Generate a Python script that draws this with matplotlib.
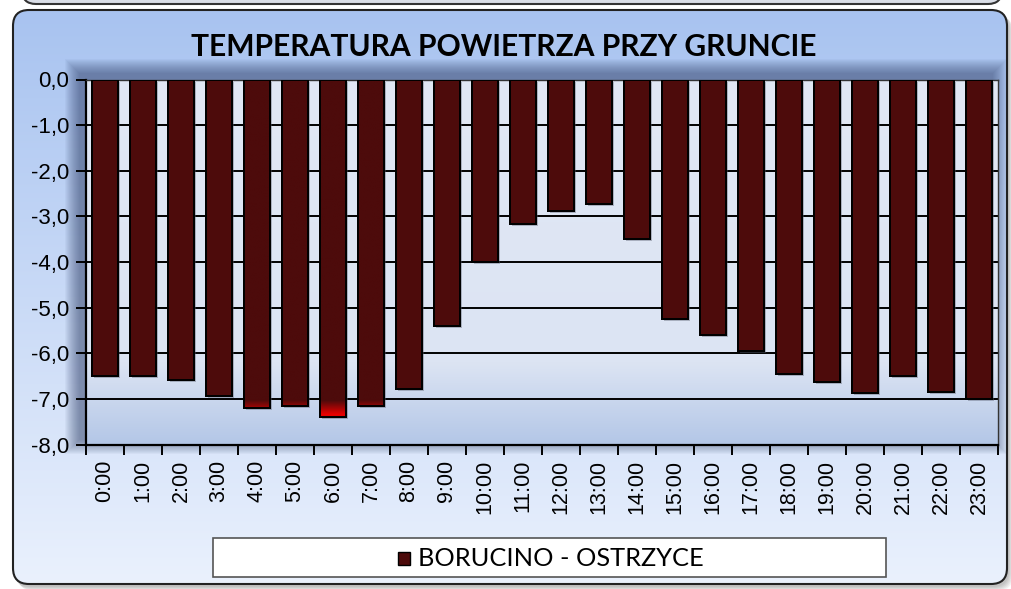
import numpy as np
import matplotlib
matplotlib.use('Agg')
import matplotlib.pyplot as plt
from matplotlib.colors import LinearSegmentedColormap
from matplotlib.patches import FancyBboxPatch, Rectangle
import matplotlib.patheffects as pe

hours = ['%d:00' % h for h in range(24)]
temps = [-6.49, -6.49, -6.59, -6.93, -7.20, -7.16, -7.39, -7.16, -6.78, -5.40,
         -4.00, -3.17, -2.89, -2.72, -3.50, -5.24, -5.60, -5.95, -6.46, -6.62,
         -6.88, -6.50, -6.85, -7.00]
yticks = [0, -1, -2, -3, -4, -5, -6, -7, -8]
title = 'TEMPERATURA POWIETRZA PRZY GRUNCIE'
series_name = 'BORUCINO - OSTRZYCE'

W, H = 1011, 589
bar_color = '#4d0b0b'

fig = plt.figure(figsize=(W / 100, H / 100), dpi=100)
fig.patch.set_facecolor('white')

# background layer in pixel coords
bg = fig.add_axes([0, 0, 1, 1], zorder=-1)
bg.set_xlim(0, W)
bg.set_ylim(H, 0)
bg.axis('off')

# piece of the chart above
prev = FancyBboxPatch((22, -60), 980, 64, boxstyle='round,pad=0,rounding_size=14',
                      facecolor='#d9dde6', edgecolor='#333333', lw=1.5)
bg.add_patch(prev)

# frame shadow
for k in range(5):
    bg.add_patch(FancyBboxPatch((14 + k, 12 + k), 995, 575,
                                boxstyle='round,pad=0,rounding_size=16',
                                facecolor='#000000', edgecolor='none', alpha=0.05))
frame = FancyBboxPatch((13, 10), 994, 574, boxstyle='round,pad=0,rounding_size=16',
                       facecolor='none', edgecolor='#222222', lw=1.5, zorder=3)
bg.add_patch(frame)
top_c = np.array(matplotlib.colors.to_rgb('#a8c3f0'))
bot_c = np.array(matplotlib.colors.to_rgb('#eaf1fd'))
t = np.linspace(0, 1, 256)[:, None]
grad = top_c[None, :] * (1 - t) + bot_c[None, :] * t
grad = np.repeat(grad[:, None, :], 2, axis=1)
im = bg.imshow(grad, extent=(13, 1007, 584, 10), aspect='auto', zorder=1,
               interpolation='bilinear')
im.set_clip_path(FancyBboxPatch((13, 10), 994, 574, boxstyle='round,pad=0,rounding_size=16',
                                transform=bg.transData))

# plot area shadow
px0, px1, py0, py1 = 86, 998, 79.5, 444.5
for k in range(1, 16):
    bg.add_patch(Rectangle((px0 - 6 - k, py0 - 6 - k), (px1 - px0) + 2 * k, (py1 - py0) + 2 * k,
                           facecolor='#2c3c66', edgecolor='none', alpha=0.045, zorder=2))

ax = fig.add_axes([px0 / W, 1 - py1 / H, (px1 - px0) / W, (py1 - py0) / H])
ax.patch.set_facecolor('none')

# plot area gradient
pa_cmap = LinearSegmentedColormap.from_list(
    'pa', [(0, '#b4c7e7'), (0.22, '#dce4f3'), (1.0, '#e1e8f5')])
ax.imshow(np.linspace(0, 1, 256)[:, None], extent=(0, 1, 0, 1), transform=ax.transAxes,
          cmap=pa_cmap, aspect='auto', origin='lower', zorder=0, interpolation='bilinear')

x = np.arange(len(hours))
bw = 0.68
bars = ax.bar(x, temps, width=bw, color=bar_color, edgecolor='black', lw=1.4, zorder=3)
for b in bars:
    b.set_path_effects([pe.SimplePatchShadow(offset=(1.5, -1.5), shadow_rgbFace='#5a6070', alpha=0.4),
                        pe.Normal()])

# red tint at the bottom of the deepest bars
red_cmap = LinearSegmentedColormap.from_list('rd', [(0, '#e60000'), (1, bar_color)])
yy = np.linspace(-8, 0, 800)
vals = np.clip((yy + 7.33) / 0.3, 0, 1)[:, None]
for xi, v, b in zip(x, temps, bars):
    if v < -7.02:
        g = ax.imshow(vals, extent=(xi - bw / 2, xi + bw / 2, -8, 0), cmap=red_cmap,
                      origin='lower', aspect='auto', zorder=3.2, vmin=0, vmax=1,
                      interpolation='bilinear')
        g.set_clip_path(b)
ax.bar(x, temps, width=bw, facecolor='none', edgecolor='black', lw=1.4, zorder=3.4)

ax.set_xlim(-0.5, 23.5)
ax.set_ylim(-8, 0)
ax.set_aspect('auto')
ax.set_yticks(yticks)
ax.set_yticklabels([('%.1f' % v).replace('.', ',') for v in yticks],
                   fontsize=16, family='Liberation Sans')
ax.yaxis.grid(True, color='black', lw=1.4, zorder=1)
ax.set_axisbelow(True)
ax.tick_params(axis='y', direction='out', length=7, width=1.4, pad=5)

ax.set_xticks(x)
ax.set_xticklabels(hours, rotation=90, fontsize=15.5, family='Liberation Sans')
ax.set_xticks(np.arange(-0.5, 24, 1), minor=True)
ax.tick_params(axis='x', which='major', length=0, pad=11)
ax.tick_params(axis='x', which='minor', direction='out', length=7, width=1.4)

for s in ['left', 'bottom']:
    ax.spines[s].set_linewidth(1.6)
    ax.spines[s].set_color('black')
for s in ['top', 'right']:
    ax.spines[s].set_linewidth(1.0)
    ax.spines[s].set_color('#333333')

fig.text(504 / W, 1 - 47 / H, title, ha='center', va='center', fontsize=21.6,
         fontweight='bold', family='Lato')

# legend box
bg.add_patch(Rectangle((213, 538), 673, 39, facecolor='white', edgecolor='#555555', lw=1.2, zorder=4))
bg.add_patch(Rectangle((398, 552), 12, 13, facecolor=bar_color, edgecolor='black', lw=1.0, zorder=5))
bg.text(418, 558.5, series_name, ha='left', va='center', fontsize=18.3, family='Lato', zorder=5)

fig.savefig('out.png', dpi=100)
